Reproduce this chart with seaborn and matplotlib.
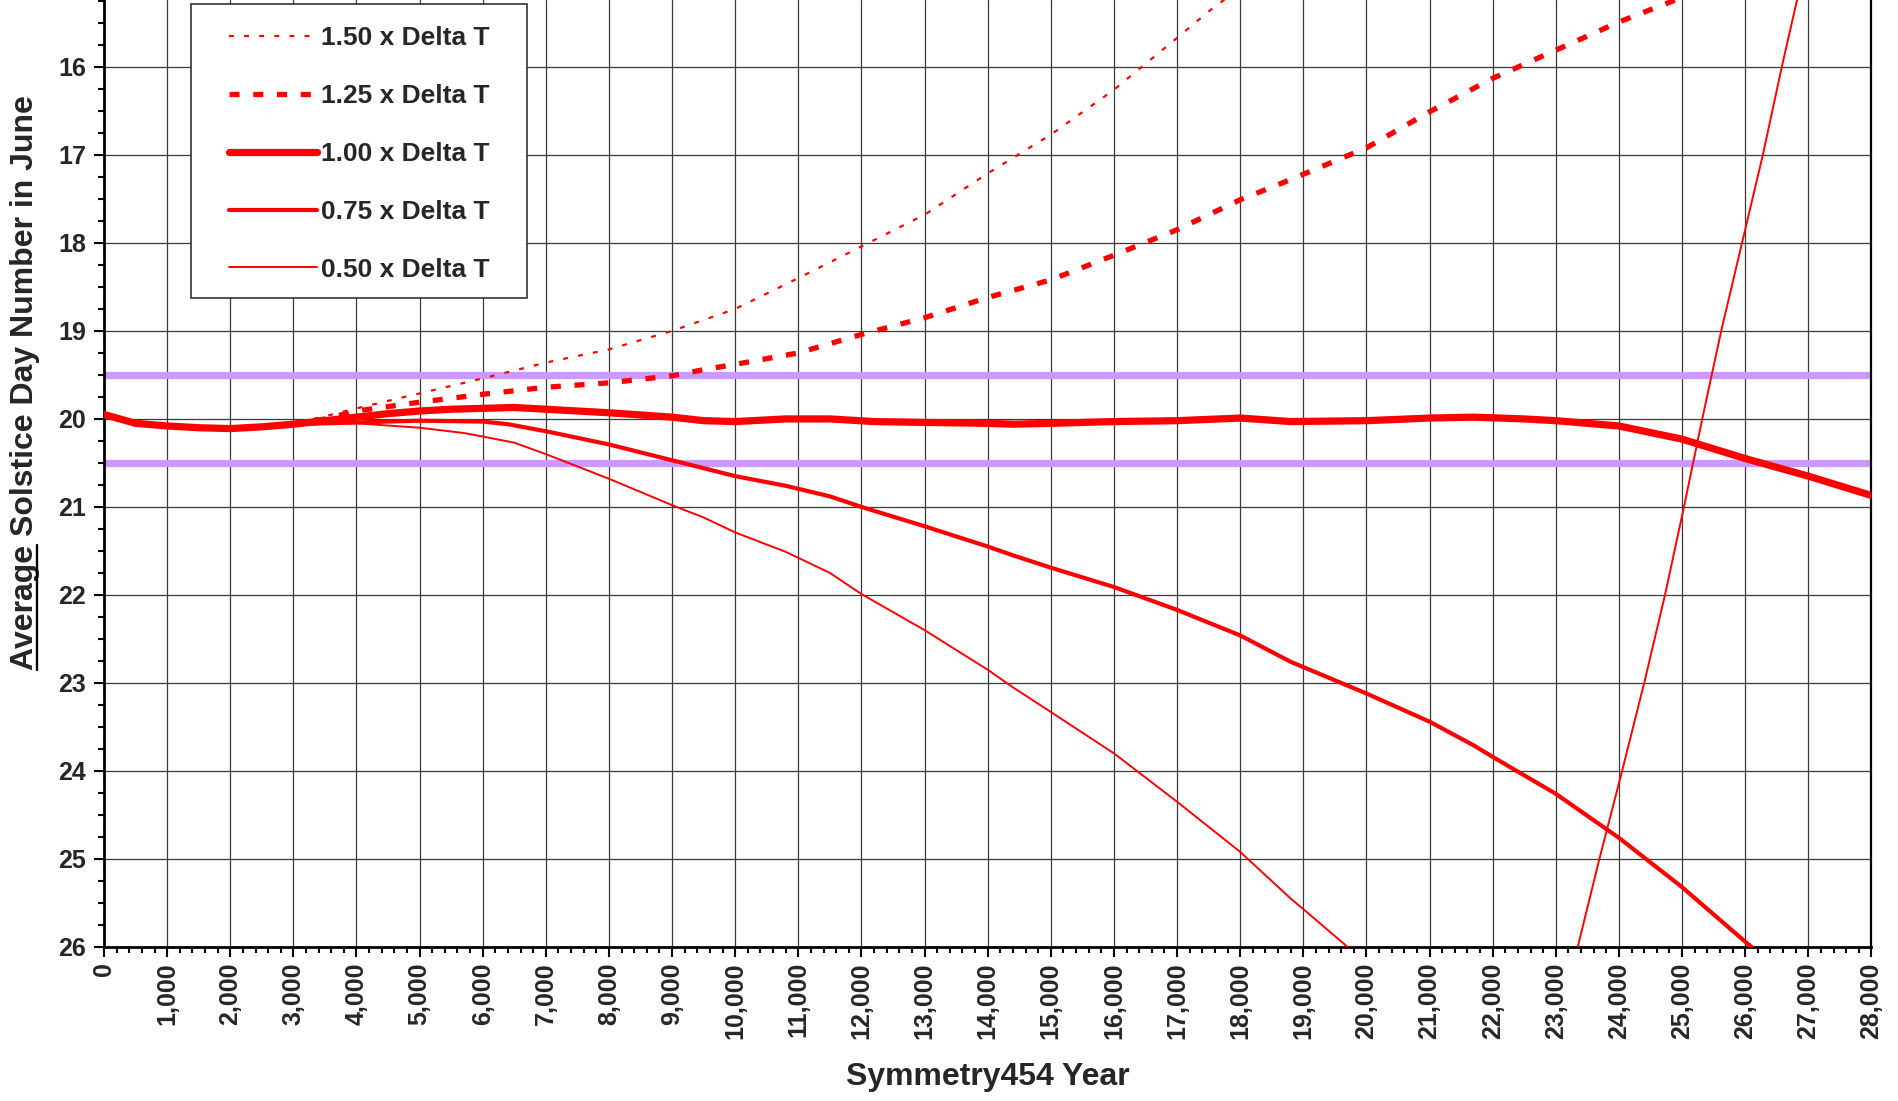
import matplotlib
matplotlib.use("Agg")
import pandas as pd
import matplotlib.pyplot as plt
import seaborn as sns
from matplotlib.ticker import MultipleLocator, FuncFormatter
from matplotlib.patches import Rectangle
from matplotlib.lines import Line2D

# shared opening stretch (all five curves overlap here)
start_years = [0, 500, 1000, 1500, 2000, 2500]
start_days = [19.95, 20.05, 20.08, 20.10, 20.11, 20.09]

years_150 = [3000, 3500, 4000, 5000, 6000, 7000, 8000, 9000, 10000, 11000,
             12000, 13000, 14000, 15000, 16000, 17000, 17500, 18000]
days_150 = [20.05, 19.97, 19.88, 19.71, 19.54, 19.36, 19.21, 19.00, 18.75, 18.40,
            18.04, 17.68, 17.21, 16.77, 16.26, 15.67, 15.37, 15.10]

years_125 = [3000, 3500, 4000, 4500, 5000, 6000, 7000, 8000, 9000, 9500, 10000,
             11000, 12000, 13000, 14000, 15000, 16000, 17000, 18000, 18800,
             20000, 21000, 22000, 23000, 24000, 25000]
days_125 = [20.06, 20.00, 19.91, 19.86, 19.81, 19.72, 19.64, 19.59, 19.51, 19.44, 19.38,
            19.25, 19.04, 18.85, 18.62, 18.42, 18.14, 17.85, 17.51, 17.28,
            16.92, 16.51, 16.13, 15.81, 15.49, 15.21]

years_100 = [3000, 3500, 4000, 4500, 5000, 5500, 6000, 6500, 7000, 8000, 9000,
             9500, 10000, 10800, 11500, 12200, 13000, 14000, 14400, 15000,
             16000, 17000, 18000, 18800, 20000, 21000, 21700, 22500, 23000,
             24000, 25000, 26000, 27000, 28000]
days_100 = [20.06, 20.02, 19.98, 19.94, 19.91, 19.89, 19.88, 19.87, 19.89, 19.93, 19.98,
            20.02, 20.03, 20.00, 20.00, 20.03, 20.04, 20.05, 20.06, 20.05,
            20.03, 20.02, 19.99, 20.03, 20.02, 19.99, 19.98, 20.00, 20.02,
            20.08, 20.23, 20.45, 20.65, 20.87]

years_075 = [3000, 4000, 5000, 6000, 6400, 7000, 8000, 8500, 9000, 9500, 10000,
             10800, 11500, 12000, 13000, 14000, 14400, 15000, 16000, 17000,
             18000, 18800, 20000, 21000, 21700, 22000, 23000, 24000, 25000,
             26000, 26200]
days_075 = [20.06, 20.04, 20.02, 20.03, 20.06, 20.14, 20.29, 20.38, 20.47, 20.56, 20.65,
            20.76, 20.88, 21.00, 21.22, 21.45, 21.55, 21.69, 21.91, 22.17,
            22.46, 22.76, 23.12, 23.44, 23.71, 23.84, 24.26, 24.76, 25.32,
            25.94, 26.06]

years_050 = [3000, 4000, 5000, 5700, 6000, 6500, 7000, 8000, 8500, 9000, 9500,
             10000, 10800, 11500, 12000, 13000, 14000, 14400, 15000, 16000,
             17000, 18000, 18800, 19000, 19800]
days_050 = [20.05, 20.05, 20.10, 20.16, 20.20, 20.27, 20.40, 20.68, 20.83, 20.98, 21.12,
            21.29, 21.51, 21.75, 21.99, 22.40, 22.85, 23.05, 23.33, 23.80,
            24.35, 24.92, 25.45, 25.57, 26.06]

# the 0.50 curve coming back in from below
years_050_back = [23330, 23690, 24050, 24400, 24730, 25030, 25320, 25620,
                  25950, 26280, 26580, 26850]
days_050_back = [26.05, 25.0, 24.0, 23.0, 22.0, 21.0, 20.0, 19.0,
                 18.0, 17.0, 16.0, 15.15]

band_limits = [19.5, 20.5]

sns.set_theme(style="white")
plt.rcParams["font.family"] = ["Liberation Sans", "DejaVu Sans"]
plt.rcParams["font.weight"] = "bold"

fig = plt.figure(figsize=(18.98, 11.01), dpi=100)
ax = fig.add_axes([0.0548, 0.1399, 0.9312, 0.8601])

for b in band_limits:
    ax.axhline(b, color="#cc99ff", linewidth=5.2, solid_capstyle="round", zorder=2)


def series(years, days, with_start=True):
    if with_start:
        years = start_years + years
        days = start_days + days
    return pd.DataFrame({"year": years, "day": days})


styles = [
    ("1.50 x Delta T", years_150, days_150, 1.6, (0, (2.2, 4.6)), 3),
    ("1.25 x Delta T", years_125, days_125, 3.8, (0, (1.9, 2.6)), 3),
    ("0.75 x Delta T", years_075, days_075, 3.0, "-", 3),
    ("0.50 x Delta T", years_050, days_050, 1.4, "-", 3),
    ("1.00 x Delta T", years_100, days_100, 5.2, "-", 3.5),
]

handles = {}
for label, yrs, dys, lw, ls, z in styles:
    sns.lineplot(data=series(yrs, dys), x="year", y="day", ax=ax, color="red",
                 linewidth=lw, linestyle=ls, estimator=None, sort=False,
                 zorder=z)
    handles[label] = ax.lines[-1]

sns.lineplot(data=series(years_050_back, days_050_back, with_start=False),
             x="year", y="day", ax=ax, color="red", linewidth=1.4,
             estimator=None, sort=False, zorder=3)

ax.set_xlim(0, 28000)
ax.set_ylim(26, 15.24)

ax.xaxis.set_major_locator(MultipleLocator(1000))
ax.xaxis.set_minor_locator(MultipleLocator(200))
ax.yaxis.set_major_locator(MultipleLocator(1))
ax.yaxis.set_minor_locator(MultipleLocator(0.25))
ax.xaxis.set_major_formatter(FuncFormatter(lambda v, p: f"{int(v):,}"))
ax.yaxis.set_major_formatter(FuncFormatter(lambda v, p: f"{int(v)}"))

ax.grid(True, which="major", color="#3a3a3a", linewidth=0.9)
ax.set_axisbelow(True)

ax.tick_params(axis="both", which="major", direction="out", length=7, width=1.5,
               color="black", labelsize=18, left=True, bottom=True)
ax.tick_params(axis="both", which="minor", direction="out", length=4.5, width=1.5,
               color="black", left=True, bottom=True)
ax.tick_params(axis="y", which="major", pad=6)
ax.tick_params(axis="x", which="major", pad=4, labelrotation=90)
for t in ax.get_xticklabels() + ax.get_yticklabels():
    t.set_fontweight("bold")

ax.spines["top"].set_visible(False)
for side, w in [("left", 2.0), ("bottom", 2.0), ("right", 1.6)]:
    ax.spines[side].set_visible(True)
    ax.spines[side].set_color("black")
    ax.spines[side].set_linewidth(w)

ax.set_xlabel("Symmetry454 Year", fontsize=23, fontweight="bold")
ax.set_ylabel("Average Solstice Day Number in June", fontsize=23, fontweight="bold")
ax.xaxis.set_label_coords(0.5, -0.121)
ax.yaxis.set_label_coords(-0.036, 0.596)

order = ["1.50 x Delta T", "1.25 x Delta T", "1.00 x Delta T",
         "0.75 x Delta T", "0.50 x Delta T"]
leg = ax.legend([handles[k] for k in order], order, loc="upper left",
                bbox_to_anchor=(0.0583, 0.9958), borderaxespad=0, frameon=False,
                prop={"size": 19, "weight": "bold"}, handlelength=3.3,
                handletextpad=0.15, labelspacing=1.28, borderpad=0.85)
leg.set_zorder(6)

fig.canvas.draw()
renderer = fig.canvas.get_renderer()
to_ax = ax.transAxes.inverted()
bb = leg.get_window_extent(renderer)
(x0, y0), (x1, y1) = to_ax.transform([[bb.x0 - 16, bb.y0 + 6], [bb.x1 + 16, bb.y1]])
ax.add_patch(Rectangle((x0, y0), x1 - x0, y1 - y0, transform=ax.transAxes,
                       facecolor="white", edgecolor="#222222", linewidth=1.1,
                       zorder=5.5, clip_on=False))

# underline the word "Average" in the y label
lab = ax.yaxis.label
lb = lab.get_window_extent(renderer)
tmp = fig.text(0, 0, "Average", fontsize=23, fontweight="bold")
w = tmp.get_window_extent(renderer).width
tmp.remove()
em = 23 * fig.dpi / 72
ux = lb.x1 - 0.11 * em
to_fig = fig.transFigure.inverted()
(fx0, fy0), (fx1, fy1) = to_fig.transform([[ux, lb.y0], [ux, lb.y0 + w]])
fig.add_artist(Line2D([fx0, fx1], [fy0, fy1], transform=fig.transFigure,
                      color="black", linewidth=1.7))

fig.savefig("out.png", dpi=100)
